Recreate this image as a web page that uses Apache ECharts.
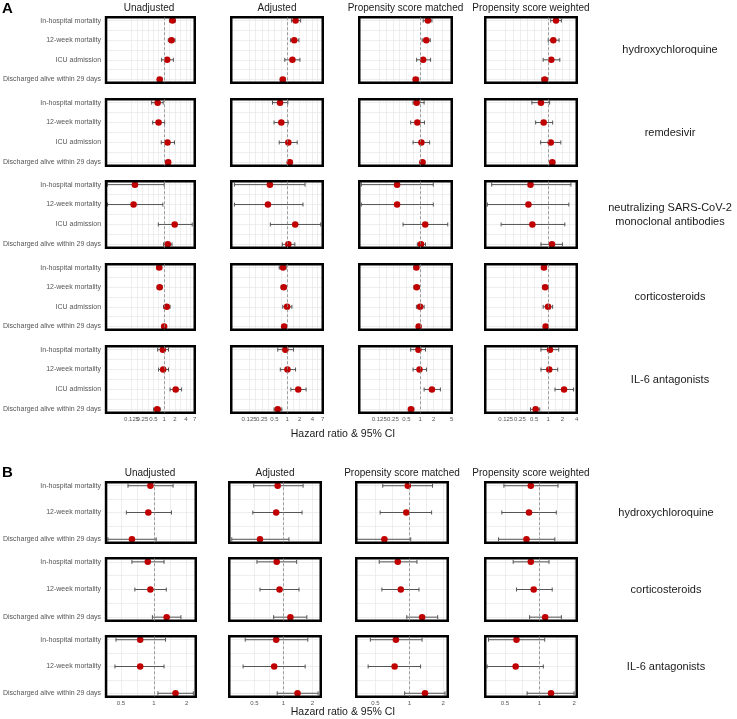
<!DOCTYPE html>
<html><head><meta charset="utf-8">
<script src="https://cdn.jsdelivr.net/npm/echarts@6/dist/echarts.min.js"></script>
<style>html,body{margin:0;padding:0;background:#fff}#c{width:737px;height:719px}</style>
</head><body><div id="c"></div><script>
// ---------- DATA ----------
const methods = ['Unadjusted', 'Adjusted', 'Propensity score matched', 'Propensity score weighted'];
const outcomesA = ['In-hospital mortality', '12-week mortality', 'ICU admission', 'Discharged alive within 29 days'];
const outcomesB = ['In-hospital mortality', '12-week mortality', 'Discharged alive within 29 days'];
const drugsA = ['hydroxychloroquine', 'remdesivir', 'neutralizing SARS-CoV-2\nmonoclonal antibodies', 'corticosteroids', 'IL-6 antagonists'];
const drugsB = ['hydroxychloroquine', 'corticosteroids', 'IL-6 antagonists'];
const ticksA = [[0.125, 0.25, 0.5, 1, 2, 4, 7], [0.125, 0.25, 0.5, 1, 2, 4, 7], [0.125, 0.25, 0.5, 1, 2, 5], [0.125, 0.25, 0.5, 1, 2, 4]];
const ticksB = [0.5, 1, 2];
const xLabel = 'Hazard ratio & 95% CI';

// [hazard ratio, lower 95% CI, upper 95% CI] per outcome, one block per method
const hcqA = [
  [[1.70, 1.40, 2.05], [1.60, 1.30, 2.00], [1.21, 0.85, 1.80], [0.75, 0.66, 0.88]],
  [[1.59, 1.27, 2.10], [1.48, 1.20, 1.91], [1.34, 0.88, 2.02], [0.79, 0.69, 0.91]],
  [[1.49, 1.17, 1.83], [1.37, 1.11, 1.68], [1.17, 0.84, 1.71], [0.80, 0.71, 0.93]],
  [[1.46, 1.13, 1.90], [1.28, 1.00, 1.70], [1.16, 0.78, 1.76], [0.84, 0.73, 0.97]]
];
const remA = [
  [[0.66, 0.45, 0.94], [0.70, 0.48, 1.03], [1.24, 0.83, 1.93], [1.29, 1.11, 1.46]],
  [[0.68, 0.45, 1.04], [0.73, 0.49, 1.06], [1.07, 0.65, 1.74], [1.16, 1.02, 1.32]],
  [[0.84, 0.70, 1.23], [0.87, 0.62, 1.25], [1.07, 0.70, 1.63], [1.13, 1.00, 1.28]],
  [[0.70, 0.45, 1.07], [0.80, 0.54, 1.24], [1.13, 0.69, 1.85], [1.22, 1.09, 1.37]]
];
const mabA = [
  [[0.155, 0.027, 1.00], [0.142, 0.027, 0.92], [1.96, 0.69, 6.0], [1.26, 0.96, 1.65]],
  [[0.39, 0.056, 2.67], [0.35, 0.056, 2.39], [1.56, 0.40, 6.3], [1.07, 0.77, 1.53]],
  [[0.31, 0.05, 1.96], [0.31, 0.05, 1.96], [1.30, 0.42, 4.1], [1.05, 0.87, 1.32]],
  [[0.42, 0.063, 3.03], [0.38, 0.051, 2.74], [0.46, 0.10, 2.25], [1.20, 0.70, 2.00]]
];
const corA = [
  [[0.73, 0.63, 0.86], [0.75, 0.64, 0.88], [1.18, 0.96, 1.46], [1.00, 0.94, 1.06]],
  [[0.80, 0.65, 0.95], [0.83, 0.72, 0.96], [1.00, 0.79, 1.30], [0.85, 0.79, 0.91]],
  [[0.83, 0.73, 0.92], [0.84, 0.73, 0.97], [1.00, 0.83, 1.23], [0.93, 0.88, 1.00]],
  [[0.81, 0.73, 0.92], [0.86, 0.76, 1.00], [0.99, 0.78, 1.24], [0.88, 0.82, 0.94]]
];
const il6A = [
  [[0.92, 0.66, 1.32], [0.94, 0.70, 1.32], [2.09, 1.46, 3.05], [0.64, 0.51, 0.78]],
  [[0.91, 0.60, 1.42], [1.02, 0.69, 1.59], [1.84, 1.23, 2.83], [0.60, 0.49, 0.75]],
  [[0.92, 0.62, 1.32], [0.97, 0.70, 1.39], [1.83, 1.23, 2.82], [0.63, 0.55, 0.73]],
  [[1.09, 0.70, 1.67], [1.05, 0.70, 1.59], [2.17, 1.39, 3.45], [0.54, 0.42, 0.66]]
];
const hcqB = [
  [[0.93, 0.58, 1.50], [0.89, 0.56, 1.45], [0.63, 0.38, 1.05]],
  [[0.87, 0.49, 1.60], [0.84, 0.48, 1.56], [0.57, 0.29, 1.14]],
  [[0.97, 0.58, 1.61], [0.94, 0.55, 1.58], [0.60, 0.34, 1.03]],
  [[0.84, 0.49, 1.45], [0.81, 0.47, 1.40], [0.77, 0.44, 1.36]]
];
const corB = [
  [[0.88, 0.63, 1.24], [0.93, 0.67, 1.30], [1.31, 0.97, 1.77]],
  [[0.85, 0.53, 1.37], [0.91, 0.57, 1.45], [1.18, 0.79, 1.75]],
  [[0.79, 0.54, 1.17], [0.84, 0.57, 1.22], [1.30, 0.95, 1.79]],
  [[0.84, 0.59, 1.21], [0.89, 0.63, 1.29], [1.12, 0.82, 1.55]]
];
const il6B = [
  [[0.75, 0.45, 1.28], [0.75, 0.44, 1.24], [1.58, 1.09, 2.30]],
  [[0.84, 0.40, 1.79], [0.80, 0.38, 1.68], [1.40, 0.86, 2.29]],
  [[0.76, 0.45, 1.30], [0.74, 0.43, 1.26], [1.38, 0.91, 2.08]],
  [[0.63, 0.36, 1.11], [0.62, 0.35, 1.08], [1.26, 0.78, 2.00]]
];
const sectionA = [hcqA, remA, mabA, corA, il6A];
const sectionB = [hcqB, corB, il6B];

// ---------- LAYOUT ----------
const FONT = "'Liberation Sans', Arial, Helvetica, sans-serif";
const colsA = [[102, 196], [230, 324], [358, 453], [484, 578]];
const rowsA = [[16, 84], [98, 167], [180, 249], [263, 331], [345, 414]];
const colsB = [[103, 197], [228, 322], [355, 449], [484, 578]];
const rowsB = [[481, 544], [557, 622], [635, 698]];
const xRangeA = [[0.0245, 7.05], [0.047, 7.05], [0.045, 5.03], [0.046, 4.03]];
const xRangeB = [[0.365, 2.42], [0.273, 2.44], [0.337, 2.2], [0.337, 2.11]];

const grids = [], xAxes = [], yAxes = [], series = [], graphics = [];
const BW = 2.5;
const gridColor = '#e6e6e6';
const labelFmt = v => String(+(+v).toPrecision(3));

function addPanel(cx, ry, rows, outcomes, range, labels, showY, showX, pad) {
  const gi = grids.length;
  grids.push({
    left: cx[0] + BW / 2, top: ry[0] + BW / 2,
    width: cx[1] - cx[0] - BW, height: ry[1] - ry[0] - BW,
    show: true, borderColor: '#000', borderWidth: BW, backgroundColor: 'transparent', z: 5
  });
  const minors = [];
  for (let i = 0; i < labels.length - 1; i++) minors.push(Math.sqrt(labels[i] * labels[i + 1]));
  const lblStyle = { fontSize: 6, color: '#555', margin: 4, fontFamily: FONT, hideOverlap: false, formatter: labelFmt };
  const xi = xAxes.length;
  // main axis: grid lines + labels except the first one
  xAxes.push({
    type: 'log', logBase: 2, gridIndex: gi, position: 'bottom', min: range[0], max: range[1],
    axisLine: { show: false },
    axisTick: { show: false, customValues: labels.concat(minors) },
    axisLabel: Object.assign({ show: showX, customValues: labels.slice(1), showMinLabel: true, showMaxLabel: true }, lblStyle),
    splitLine: { show: true, lineStyle: { color: gridColor, width: 0.7 } }
  });
  if (showX) {
    // companion axis on the same scale carrying the smallest tick label
    xAxes.push({
      type: 'log', logBase: 2, gridIndex: gi, position: 'bottom', min: range[0], max: range[1],
      axisLine: { show: false }, axisTick: { show: false }, splitLine: { show: false },
      axisLabel: Object.assign({ show: true, customValues: labels.slice(0, 1), showMinLabel: true, showMaxLabel: true }, lblStyle)
    });
  }
  const n = outcomes.length;
  const yt = [];
  for (let i = 0; i <= 2 * (n - 1); i++) yt.push(i / 2);
  yAxes.push({
    type: 'value', gridIndex: gi, inverse: true, min: -pad, max: n - 1 + pad,
    axisLine: { show: false },
    axisTick: { show: false, customValues: yt },
    axisLabel: {
      show: showY, customValues: outcomes.map((_, i) => i), fontSize: 7, color: '#555',
      margin: 5, fontFamily: FONT, hideOverlap: false, showMinLabel: true, showMaxLabel: true,
      formatter: v => outcomes[Math.round(v)]
    },
    splitLine: { show: true, lineStyle: { color: gridColor, width: 0.7 } }
  });
  series.push({
    type: 'custom', xAxisIndex: xi, yAxisIndex: gi, z: 2, clip: true, silent: true,
    data: rows.map((r, i) => [r[1], r[2], i]),
    encode: { x: [0, 1], y: 2 },
    renderItem: (params, api) => {
      const a = api.coord([api.value(0), api.value(2)]);
      const b = api.coord([api.value(1), api.value(2)]);
      const st = { stroke: '#555', lineWidth: 1 };
      const h = 2;
      return {
        type: 'group', children: [
          { type: 'line', shape: { x1: a[0], y1: a[1], x2: b[0], y2: b[1] }, style: st },
          { type: 'line', shape: { x1: a[0], y1: a[1] - h, x2: a[0], y2: a[1] + h }, style: st },
          { type: 'line', shape: { x1: b[0], y1: b[1] - h, x2: b[0], y2: b[1] + h }, style: st }
        ]
      };
    },
    markLine: {
      silent: true, symbol: 'none', label: { show: false }, animation: false,
      lineStyle: { color: '#888', type: [3, 2], width: 0.8 },
      data: [{ xAxis: 1 }]
    }
  });
  series.push({
    type: 'scatter', xAxisIndex: xi, yAxisIndex: gi, z: 3, silent: true,
    symbolSize: 6.5, itemStyle: { color: '#c00000', opacity: 1 },
    data: rows.map((r, i) => [r[0], i])
  });
}

function txt(text, x, y, size, opts) {
  graphics.push(Object.assign({
    type: 'text', x: x, y: y, silent: true,
    style: {
      text: text, font: (opts && opts.bold ? 'bold ' : '') + size + 'px ' + FONT,
      fill: (opts && opts.fill) || '#1a1a1a', textAlign: (opts && opts.align) || 'center', align: (opts && opts.align) || 'center',
      textVerticalAlign: 'middle', verticalAlign: 'middle', lineHeight: (opts && opts.lh) || size + 2
    }
  }));
}

// Section A
sectionA.forEach((drug, r) => {
  drug.forEach((rows, c) => {
    addPanel(colsA[c], rowsA[r], rows, outcomesA, xRangeA[c], ticksA[c], c === 0, r === sectionA.length - 1, 0.17);
  });
  txt(drugsA[r], 670, (rowsA[r][0] + rowsA[r][1]) / 2, 11, { lh: 14 });
});
// Section B
sectionB.forEach((drug, r) => {
  drug.forEach((rows, c) => {
    addPanel(colsB[c], rowsB[r], rows, outcomesB, xRangeB[c], ticksB, c === 0, r === sectionB.length - 1, 0.13);
  });
  txt(drugsB[r], 666, (rowsB[r][0] + rowsB[r][1]) / 2, 11);
});
methods.forEach((m, c) => {
  txt(m, (colsA[c][0] + colsA[c][1]) / 2, 8, 10);
  txt(m, (colsB[c][0] + colsB[c][1]) / 2, 473, 10);
});
txt('A', 2, 9, 15, { bold: true, align: 'left', fill: '#000' });
txt('B', 2, 473, 15, { bold: true, align: 'left', fill: '#000' });
txt(xLabel, 343, 434, 10.5);
txt(xLabel, 343, 712, 10.5);

const chart = echarts.init(document.getElementById('c'), null, { renderer: 'canvas' });
chart.setOption({
  animation: false,
  backgroundColor: '#fff',
  textStyle: { fontFamily: FONT },
  grid: grids, xAxis: xAxes, yAxis: yAxes, series: series, graphic: graphics
});
</script></body></html>
